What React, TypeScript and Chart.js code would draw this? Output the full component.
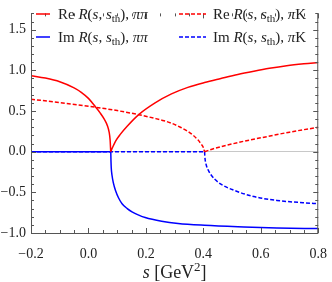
import React, { useEffect, useRef } from 'react';
import { Chart, registerables } from 'chart.js';
Chart.register(...registerables);

// s values [GeV^2] and read-off values of each curve (null = branch break at the threshold cusp)
const rePiPiS = [-0.2, -0.15, -0.1, -0.05, -0.025, 0, 0.025, 0.04, 0.055, 0.066, 0.072, 0.0755, 0.0775, 0.0776, 0.0777, 0.085, 0.0945, 0.11, 0.134, 0.175, 0.232, 0.289, 0.346, 0.404, 0.461, 0.52, 0.576, 0.63, 0.69, 0.75, 0.8];
const rePiPiV = [0.935, 0.905, 0.86, 0.785, 0.73, 0.655, 0.548, 0.48, 0.4, 0.32, 0.24, 0.14, 0, null, 0, 0.06, 0.13, 0.21, 0.31, 0.456, 0.6, 0.71, 0.79, 0.85, 0.9, 0.95, 0.99, 1.025, 1.057, 1.08, 1.095];

const imPiPiS = [-0.2, 0.0775, 0.0776, 0.0777, 0.0785, 0.0794, 0.082, 0.0865, 0.0945, 0.105, 0.117, 0.135, 0.1516, 0.175, 0.1976, 0.2547, 0.312, 0.404, 0.541, 0.656, 0.8];
const imPiPiV = [0, 0, null, 0, -0.12, -0.2, -0.29, -0.38, -0.48, -0.57, -0.64, -0.7, -0.74, -0.78, -0.81, -0.855, -0.883, -0.905, -0.925, -0.938, -0.946];

const rePiKS = [-0.2, -0.1, 0, 0.025, 0.1, 0.175, 0.23, 0.263, 0.289, 0.32, 0.346, 0.365, 0.381, 0.392, 0.4, 0.404, 0.4041, 0.4042, 0.43, 0.46, 0.5, 0.55, 0.6, 0.7, 0.8];
const rePiKV = [0.645, 0.603, 0.558, 0.546, 0.505, 0.455, 0.41, 0.38, 0.35, 0.3, 0.25, 0.2, 0.145, 0.095, 0.05, 0, null, 0, 0.03, 0.06, 0.095, 0.135, 0.17, 0.24, 0.3];

const imPiKS = [-0.2, 0.404, 0.4041, 0.4042, 0.406, 0.409, 0.416, 0.4265, 0.44, 0.461, 0.507, 0.5756, 0.656, 0.747, 0.8];
const imPiKV = [0, 0, null, 0, -0.09, -0.15, -0.22, -0.284, -0.34, -0.4, -0.475, -0.552, -0.6, -0.628, -0.64];

const xTicks = [-0.2, 0, 0.2, 0.4, 0.6, 0.8];
const yTicks = [-1, -0.5, 0, 0.5, 1, 1.5];

const RED = 'rgb(255,0,0)';
const BLUE = 'rgb(0,0,255)';
const SERIF = '"Liberation Serif", "DejaVu Serif", serif';

const pts = (xs: number[], ys: (number | null)[]) => xs.map((x, i) => ({ x, y: ys[i] }));
const fmt = (v: number) => {
  const r = Math.round(v * 10) / 10;
  return (r < 0 ? '\u2212' : '') + Math.abs(r).toFixed(1);
};

type Run = [string, 'n' | 'i' | 'sub' | 'sup'];
function fontFor(st: string, size: number) {
  if (st === 'i') return `italic ${size}px ${SERIF}`;
  if (st === 'sub' || st === 'sup') return `${Math.round(size * 0.7)}px ${SERIF}`;
  return `${size}px ${SERIF}`;
}
function runWidth(ctx: CanvasRenderingContext2D, runs: Run[], size: number) {
  let w = 0;
  for (const [t, st] of runs) {
    ctx.font = fontFor(st, size);
    w += ctx.measureText(t).width;
  }
  return w;
}
function drawRuns(ctx: CanvasRenderingContext2D, runs: Run[], x: number, y: number, size: number) {
  ctx.textBaseline = 'alphabetic';
  ctx.textAlign = 'left';
  for (const [t, st] of runs) {
    ctx.font = fontFor(st, size);
    const dy = st === 'sub' ? size * 0.22 : st === 'sup' ? -size * 0.38 : 0;
    ctx.fillText(t, x, y + dy);
    x += ctx.measureText(t).width;
  }
}

const legendRuns = (re: boolean, pk: boolean): Run[] => [
  [re ? 'Re ' : 'Im ', 'n'], ['R', 'i'], ['(', 'n'], ['s', 'i'], [', ', 'n'], ['s', 'i'], ['th', 'sub'], [')', 'n'], [', ', 'n'],
  ...(pk ? ([['\u03c0', 'i'], ['K', 'n']] as Run[]) : ([['\u03c0\u03c0', 'i']] as Run[])),
];

const decorPlugin = {
  id: 'decor',
  afterDraw(chart: any) {
    const ctx: CanvasRenderingContext2D = chart.ctx;
    const ca = chart.chartArea;
    const xs = chart.scales.x;
    const ys = chart.scales.y;
    ctx.save();
    // frame
    ctx.strokeStyle = '#555';
    ctx.lineWidth = 1;
    ctx.beginPath();
    ctx.moveTo(ca.left + 0.5, ca.top);
    ctx.lineTo(ca.left + 0.5, ca.bottom + 0.5);
    ctx.lineTo(ca.right - 0.5, ca.bottom + 0.5);
    ctx.lineTo(ca.right - 0.5, ca.top);
    ctx.stroke();
    // inward ticks on all four sides
    ctx.beginPath();
    for (let k = -20; k <= 80; k += 5) {
      const px = Math.round(xs.getPixelForValue(k / 100)) + 0.5;
      const len = k % 20 === 0 ? 5 : 3;
      ctx.moveTo(px, ca.bottom);
      ctx.lineTo(px, ca.bottom - len);
      ctx.moveTo(px, ca.top);
      ctx.lineTo(px, ca.top + len);
    }
    for (let k = -10; k <= 17; k += 1) {
      const py = Math.round(ys.getPixelForValue(k / 10)) + 0.5;
      const len = k % 5 === 0 ? 5 : 3;
      ctx.moveTo(ca.left, py);
      ctx.lineTo(ca.left + len, py);
      ctx.moveTo(ca.right, py);
      ctx.lineTo(ca.right - len, py);
    }
    ctx.stroke();

    // legend
    const items = [
      { ds: 0, lx0: 36, lx1: 50, tx: 58, y: 14 },
      { ds: 1, lx0: 36, lx1: 50, tx: 58, y: 37 },
      { ds: 2, lx0: 179, lx1: 206, tx: 213, y: 14 },
      { ds: 3, lx0: 179, lx1: 206, tx: 213, y: 37 },
    ];
    for (const it of items) {
      const d = chart.data.datasets[it.ds];
      ctx.strokeStyle = d.borderColor;
      ctx.lineWidth = 1.5;
      ctx.setLineDash(d.borderDash || []);
      ctx.beginPath();
      ctx.moveTo(it.lx0, it.y);
      ctx.lineTo(it.lx1, it.y);
      ctx.stroke();
      ctx.setLineDash([]);
      ctx.fillStyle = '#222';
      drawRuns(ctx, legendRuns(it.ds % 2 === 0, it.ds >= 2), it.tx, it.y + 5, 15);
    }

    // x axis title
    const title: Run[] = [['s', 'i'], [' [GeV', 'n'], ['2', 'sup'], [']', 'n']];
    const w = runWidth(ctx, title, 18);
    ctx.fillStyle = '#222';
    drawRuns(ctx, title, (ca.left + ca.right) / 2 - w / 2, 277.5, 18);
    ctx.restore();
  },
};

export default function App() {
  const ref = useRef<HTMLCanvasElement>(null);
  useEffect(() => {
    const common = { pointRadius: 0, borderWidth: 1.5, fill: false, spanGaps: false, cubicInterpolationMode: 'monotone' as const };
    const chart = new Chart(ref.current!, {
      type: 'line',
      data: {
        datasets: [
          { label: 'Re R(s, s_th), ππ', data: pts(rePiPiS, rePiPiV), borderColor: RED, ...common },
          { label: 'Im R(s, s_th), ππ', data: pts(imPiPiS, imPiPiV), borderColor: BLUE, ...common },
          { label: 'Re R(s, s_th), πK', data: pts(rePiKS, rePiKV), borderColor: RED, borderDash: [4, 2], ...common },
          { label: 'Im R(s, s_th), πK', data: pts(imPiKS, imPiKV), borderColor: BLUE, borderDash: [4, 2], ...common },
        ],
      },
      options: {
        animation: false,
        responsive: false,
        devicePixelRatio: 1,
        layout: { padding: { left: 0, right: 10, top: 0, bottom: 0 } },
        plugins: { legend: { display: false }, tooltip: { enabled: false } },
        scales: {
          x: {
            type: 'linear',
            min: -0.2,
            max: 0.8,
            afterFit: (s: any) => { s.height = 49; },
            afterBuildTicks: (s: any) => { s.ticks = xTicks.map((v) => ({ value: v })); },
            grid: { display: false },
            border: { display: false },
            ticks: {
              autoSkip: false,
              maxRotation: 0,
              padding: 5,
              color: '#222',
              font: { family: SERIF, size: 14 },
              callback: (v: any) => fmt(Number(v)),
            },
          },
          y: {
            type: 'linear',
            min: -1,
            max: 1.7,
            afterFit: (s: any) => { s.width = 31; },
            afterBuildTicks: (s: any) => { s.ticks = yTicks.map((v) => ({ value: v })); },
            grid: {
              drawTicks: false,
              lineWidth: 1,
              color: (c: any) => (c.tick && Math.abs(c.tick.value) < 1e-9 ? '#c8c8c8' : 'rgba(0,0,0,0)'),
            },
            border: { display: false },
            ticks: {
              padding: 5,
              color: '#222',
              font: { family: SERIF, size: 14 },
              callback: (v: any) => fmt(Number(v)),
            },
          },
        },
      },
      plugins: [decorPlugin],
    });
    return () => chart.destroy();
  }, []);
  return (
    <div style={{ position: 'fixed', left: 0, top: 0, width: 332, height: 282, background: '#fff' }}>
      <canvas ref={ref} width={332} height={282} />
    </div>
  );
}
